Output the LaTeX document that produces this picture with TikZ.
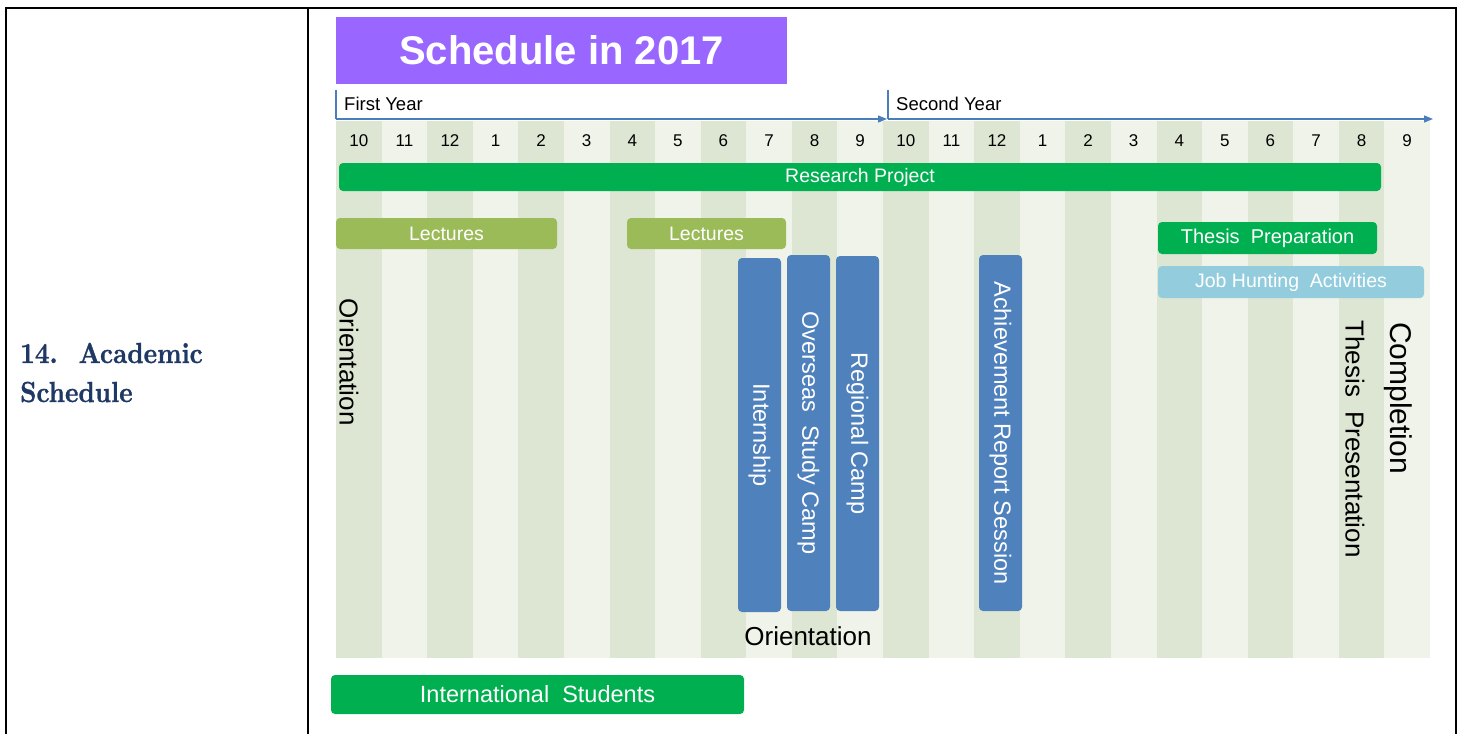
\documentclass[tikz,border=0pt]{standalone}
\usepackage{fontspec}
\setsansfont{Liberation Sans}
\newfontface\headfont[FakeBold=1,FakeStretch=0.88]{lmroman10-bold.otf}
\usepackage{xcolor}
\usetikzlibrary{arrows.meta}

\definecolor{titlepurple}{HTML}{9966FF}
\definecolor{stripedark}{HTML}{DDE6D3}
\definecolor{stripelight}{HTML}{EFF3EA}
\definecolor{projgreen}{HTML}{00B050}
\definecolor{lectgreen}{HTML}{9BBB59}
\definecolor{campblue}{HTML}{4F81BD}
\definecolor{jobblue}{HTML}{93CDDD}
\definecolor{axisblue}{HTML}{4A7EBB}
\definecolor{headnavy}{HTML}{1F3864}

\newcommand{\px}[1]{\sffamily\fontsize{#1}{#1}\selectfont}

\tikzset{
    bar/.style={rounded corners=4pt, inner sep=0pt, text=white, font=\px{19.5}},
    campbar/.style={bar, fill=campblue, rotate=-90, minimum height=43pt, font=\px{23.5}},
    sidelabel/.style={rotate=-90, inner sep=0pt, font=\px{26}},
    monthlabel/.style={inner sep=0pt, font=\px{17}},
    yearlabel/.style={anchor=west, inner sep=0pt, font=\px{18.5}},
    headlabel/.style={anchor=base west, inner sep=0pt, text=headnavy, font=\headfont\fontsize{29}{29}\selectfont},
    axisline/.style={axisblue, line width=1.2pt, -{Triangle[length=9pt,width=7pt]}},
}

\begin{document}
\begin{tikzpicture}[x=1pt, y=-1pt]
    \useasboundingbox (0,0) rectangle (1463,734);

    % table frame
    \draw[line width=2.5pt] (6,734) -- (6,8) -- (1456,8) -- (1456,734);
    \draw[line width=2pt] (308,8) -- (308,734);

    \node[headlabel] (secnum) at (20,363) {14.\hspace{21pt}Academic};
    \node[headlabel] (sectitle) at (20,402) {Schedule};

    % month stripes
    \foreach \i in {0,2,...,22}
        \fill[stripedark] ({336+\i*45.583},121) rectangle ({336+(\i+1)*45.583},658);
    \foreach \i in {1,3,...,23}
        \fill[stripelight] ({336+\i*45.583},121) rectangle ({336+(\i+1)*45.583},658);

    \foreach \m [count=\i from 0] in {10,11,12,1,2,3,4,5,6,7,8,9,10,11,12,1,2,3,4,5,6,7,8,9}
        \node[monthlabel] (m\i) at ({336+(\i+0.5)*45.583},141) {\m};

    % title
    \node[fill=titlepurple, minimum width=451pt, minimum height=67pt, inner sep=0pt,
          text=white, font=\sffamily\bfseries\fontsize{40}{40}\selectfont]
        (title) at (561.5,50.5) {Schedule in 2017};

    % year axis
    \coordinate (fytop) at (336,90);
    \coordinate (fybase) at (336,119);
    \coordinate (fyend) at (887,119);
    \coordinate (sytop) at (888,90);
    \coordinate (sybase) at (888,119);
    \coordinate (syend) at (1433,119);
    \draw[axisblue, line width=1.2pt] (fytop) -- (fybase);
    \draw[axisline] (fybase) -- (fyend);
    \draw[axisblue, line width=1.2pt] (sytop) -- (sybase);
    \draw[axisline] (sybase) -- (syend);
    \node[yearlabel] (firstyear) at (344,104) {First Year};
    \node[yearlabel] (secondyear) at (896,104) {Second Year};

    % horizontal bars
    \node[bar, fill=projgreen, minimum width=1042pt, minimum height=28pt]
        (research) at (860,177) {Research Project};
    \node[bar, fill=lectgreen, minimum width=221pt, minimum height=31pt]
        (lect1) at (446.5,233.5) {Lectures};
    \node[bar, fill=lectgreen, minimum width=159pt, minimum height=31pt]
        (lect2) at (706.5,233.5) {Lectures};
    \node[bar, fill=projgreen, minimum width=219pt, minimum height=32pt, font=\px{20}]
        (thesisprep) at (1267.5,238) {Thesis\ \ Preparation};
    \node[bar, fill=jobblue, minimum width=266pt, minimum height=32pt]
        (jobhunt) at (1291,282) {Job Hunting\ \ Activities};
    \node[bar, fill=projgreen, minimum width=413pt, minimum height=39pt, font=\px{23.5}]
        (intl) at (537.5,694.5) {International\ \ Students};

    % vertical bars
    \node[campbar, minimum width=354pt] (intern) at (759.5,435) {Internship};
    \node[campbar, minimum width=356pt] (overseas) at (808.5,433) {Overseas\ \ Study Camp};
    \node[campbar, minimum width=355pt] (regional) at (857.5,433.5) {Regional Camp};
    \node[campbar, minimum width=356pt] (achieve) at (1000.5,433) {Achievement Report Session};

    % plain labels
    \node[sidelabel] (orient1) at (349,362) {Orientation};
    \node[inner sep=0pt, font=\px{26}] (orient2) at (808,636) {Orientation};
    \node[sidelabel] (thesispres) at (1355,439) {Thesis\ \ Presentation};
    \node[sidelabel, font=\px{30}] (completion) at (1398,398) {Completion};
\end{tikzpicture}
\end{document}
